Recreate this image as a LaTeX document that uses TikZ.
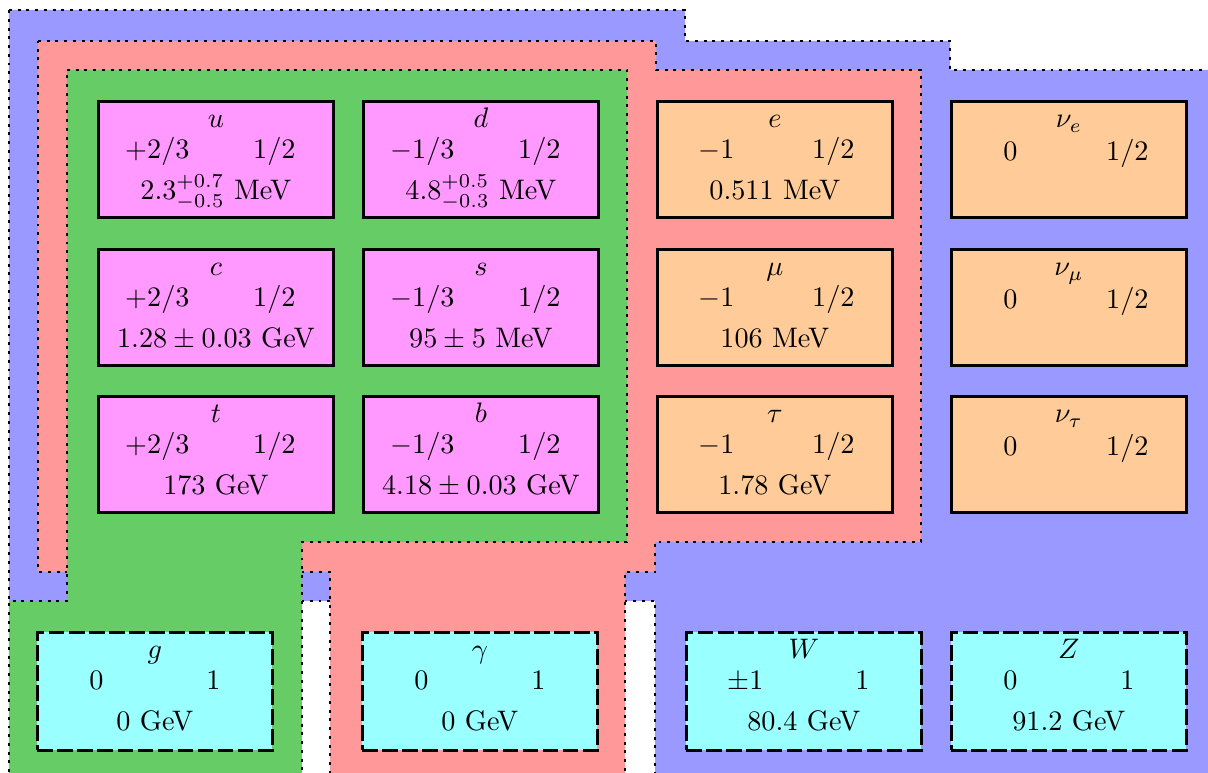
\documentclass[tikz,border=0pt]{standalone}
\usetikzlibrary{calc}
\definecolor{wblue}{HTML}{9999FF}
\definecolor{ered}{HTML}{FF9999}
\definecolor{sgreen}{HTML}{66CC66}
\definecolor{quark}{HTML}{FF99FF}
\definecolor{lepton}{HTML}{FFCC99}
\definecolor{boson}{HTML}{99FFFF}
\tikzset{
  region/.style={line width=1.05pt, dash pattern=on 1.05pt off 2.05pt},
  fermionbox/.style={draw, line width=1pt, minimum width=83.3pt, minimum height=41.1pt, anchor=north west, inner sep=0pt},
  bosonbox/.style={draw, line width=1pt, dash pattern=on 5.5pt off 1.6pt, minimum width=83.3pt, minimum height=41.8pt, anchor=north west, inner sep=0pt, fill=boson},
  txt/.style={anchor=base, inner sep=0pt},
}
\newcommand\partbox[9]{%
  \node[#2] (#1) at (#3,#4) {};
  \node[txt] (#1-s) at ($(#1.north)+(0,28)$) {#5};
  \node[txt] (#1-q) at ($(#1.north)+(-58.5,#9)$) {#6};
  \node[txt] (#1-j) at ($(#1.north)+(58.5,#9)$) {#7};
  \node[txt] (#1-m) at ($(#1.north)+(0,100)$) {#8};
}
\begin{document}
\begin{tikzpicture}[x=0.3546pt, y=-0.3546pt]
\useasboundingbox (0,0) rectangle (1208,773);
\clip (0,0) rectangle (1208,773);
% regions
\filldraw[fill=wblue, region] (9,10) -- (685,10) -- (685,41) -- (950,41) -- (950,70) -- (1220,70) -- (1220,785) -- (655,785) -- (655,601) -- (9,601) -- cycle;
\filldraw[fill=ered, region] (38,41) -- (656,41) -- (656,70) -- (921,70) -- (921,542) -- (655,542) -- (655,572) -- (625,572) -- (625,785) -- (330,785) -- (330,572) -- (38,572) -- cycle;
\filldraw[fill=sgreen, region] (67,70) -- (627,70) -- (627,542) -- (302,542) -- (302,785) -- (9,785) -- (9,601) -- (67,601) -- cycle;
% quarks
\partbox{u}{fermionbox,fill=quark}{97}{100}{$u$}{$+2/3$}{$1/2$}{$2.3^{+0.7}_{-0.5}$ MeV}{59}
\partbox{d}{fermionbox,fill=quark}{362}{100}{$d$}{$-1/3$}{$1/2$}{$4.8^{+0.5}_{-0.3}$ MeV}{59}
\partbox{c}{fermionbox,fill=quark}{97}{248}{$c$}{$+2/3$}{$1/2$}{$1.28\pm0.03$ GeV}{59}
\partbox{s}{fermionbox,fill=quark}{362}{248}{$s$}{$-1/3$}{$1/2$}{$95\pm5$ MeV}{59}
\partbox{t}{fermionbox,fill=quark}{97}{395}{$t$}{$+2/3$}{$1/2$}{173 GeV}{59}
\partbox{b}{fermionbox,fill=quark}{362}{395}{$b$}{$-1/3$}{$1/2$}{$4.18\pm0.03$ GeV}{59}
% leptons
\partbox{e}{fermionbox,fill=lepton}{656}{100}{$e$}{$-1$}{$1/2$}{0.511 MeV}{59}
\partbox{mu}{fermionbox,fill=lepton}{656}{248}{$\mu$}{$-1$}{$1/2$}{106 MeV}{59}
\partbox{tau}{fermionbox,fill=lepton}{656}{395}{$\tau$}{$-1$}{$1/2$}{1.78 GeV}{59}
\partbox{ne}{fermionbox,fill=lepton}{950}{100}{$\nu_e$}{$0$}{$1/2$}{}{61}
\partbox{nmu}{fermionbox,fill=lepton}{950}{248}{$\nu_\mu$}{$0$}{$1/2$}{}{61}
\partbox{ntau}{fermionbox,fill=lepton}{950}{395}{$\nu_\tau$}{$0$}{$1/2$}{}{61}
% bosons
\partbox{g}{bosonbox}{36}{631}{$g$}{$0$}{$1$}{0 GeV}{59}
\partbox{gam}{bosonbox}{361}{631}{$\gamma$}{$0$}{$1$}{0 GeV}{59}
\partbox{W}{bosonbox}{685}{631}{$W$}{$\pm1$}{$1$}{80.4 GeV}{59}
\partbox{Z}{bosonbox}{950}{631}{$Z$}{$0$}{$1$}{91.2 GeV}{59}
\end{tikzpicture}
\end{document}
